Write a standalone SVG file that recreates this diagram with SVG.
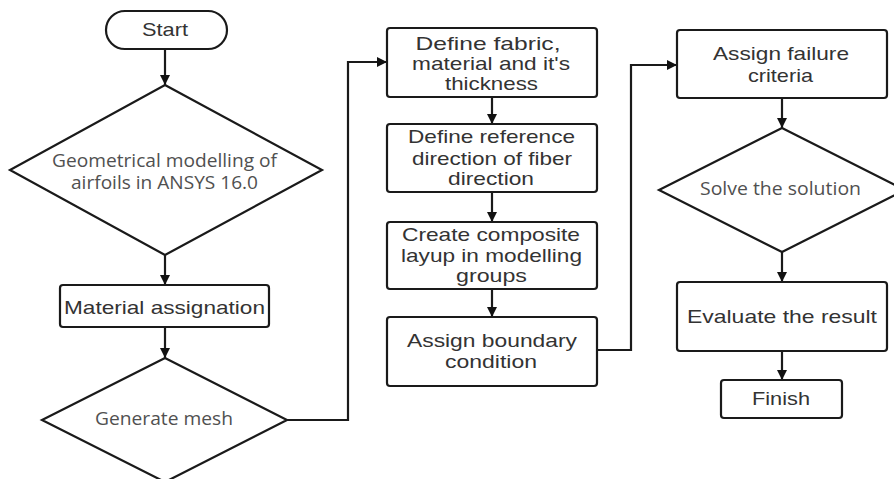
<svg xmlns="http://www.w3.org/2000/svg" width="894" height="479" viewBox="0 0 894 479">
<defs>
<marker id="ah" markerUnits="userSpaceOnUse" markerWidth="12" markerHeight="12" refX="10" refY="5" orient="auto">
<path d="M0,0 L10,5 L0,10 Z" fill="#111"/>
</marker>
<style>
.s{fill:#fff;stroke:#1a1a1a;stroke-width:2.2}
.c{fill:none;stroke:#1a1a1a;stroke-width:2.2;marker-end:url(#ah)}
.b{font-family:"Liberation Sans",Arial,sans-serif;font-size:19px;fill:#333;text-anchor:middle}
.d{font-family:"Open Sans","Noto Sans",sans-serif;font-size:17.5px;fill:#505050;text-anchor:middle}
</style>
</defs>
<rect width="894" height="479" fill="#fff"/>
<g id="connectors">
<path class="c" d="M165,49 V85"/>
<path class="c" d="M165,255 V285"/>
<path class="c" d="M165,327 V358"/>
<path class="c" d="M287,420 H348 V62 H387"/>
<path class="c" d="M492,97 V124"/>
<path class="c" d="M492,192 V222"/>
<path class="c" d="M492,289 V317"/>
<path class="c" d="M597,350 H631 V65 H677"/>
<path class="c" d="M782,98 V128"/>
<path class="c" d="M782,252 V282"/>
<path class="c" d="M782,351 V380"/>
</g>
<g id="start">
<rect class="s" x="106" y="11" width="121" height="38" rx="19"/>
<text class="b" x="165" y="36" textLength="46" lengthAdjust="spacingAndGlyphs">Start</text>
</g>
<g id="geom">
<polygon class="s" points="165,85 322,170 165,255 10,170"/>
<text class="d" x="164.5" y="167" textLength="225" lengthAdjust="spacingAndGlyphs">Geometrical modelling of</text>
<text class="d" x="164.5" y="189" textLength="187" lengthAdjust="spacingAndGlyphs">airfoils in ANSYS 16.0</text>
</g>
<g id="material">
<rect class="s" x="60" y="285" width="209" height="42" rx="3"/>
<text class="b" x="164.5" y="314" textLength="201" lengthAdjust="spacingAndGlyphs">Material assignation</text>
</g>
<g id="mesh">
<polygon class="s" points="165,358 287,420 165,482 42,420"/>
<text class="d" x="164" y="425" textLength="138" lengthAdjust="spacingAndGlyphs">Generate mesh</text>
</g>
<g id="fabric">
<rect class="s" x="387" y="28" width="210" height="69" rx="3"/>
<text class="b" x="488" y="50" textLength="145" lengthAdjust="spacingAndGlyphs">Define fabric,</text>
<text class="b" x="491" y="70" textLength="158" lengthAdjust="spacingAndGlyphs">material and it's</text>
<text class="b" x="491.5" y="90" textLength="93" lengthAdjust="spacingAndGlyphs">thickness</text>
</g>
<g id="reference">
<rect class="s" x="387" y="124" width="210" height="68" rx="3"/>
<text class="b" x="491.5" y="143" textLength="167" lengthAdjust="spacingAndGlyphs">Define reference</text>
<text class="b" x="492" y="165" textLength="160" lengthAdjust="spacingAndGlyphs">direction of fiber</text>
<text class="b" x="491" y="185" textLength="86" lengthAdjust="spacingAndGlyphs">direction</text>
</g>
<g id="layup">
<rect class="s" x="387" y="222" width="210" height="67" rx="3"/>
<text class="b" x="491" y="241" textLength="178" lengthAdjust="spacingAndGlyphs">Create composite</text>
<text class="b" x="491.5" y="262" textLength="181" lengthAdjust="spacingAndGlyphs">layup in modelling</text>
<text class="b" x="491.5" y="282" textLength="71" lengthAdjust="spacingAndGlyphs">groups</text>
</g>
<g id="boundary">
<rect class="s" x="387" y="317" width="210" height="69" rx="3"/>
<text class="b" x="492" y="347" textLength="170" lengthAdjust="spacingAndGlyphs">Assign boundary</text>
<text class="b" x="491" y="368" textLength="92" lengthAdjust="spacingAndGlyphs">condition</text>
</g>
<g id="failure">
<rect class="s" x="677" y="30" width="210" height="68" rx="3"/>
<text class="b" x="781" y="60" textLength="136" lengthAdjust="spacingAndGlyphs">Assign failure</text>
<text class="b" x="780.5" y="82" textLength="65" lengthAdjust="spacingAndGlyphs">criteria</text>
</g>
<g id="solve">
<polygon class="s" points="782,128 905,190 782,252 659,190"/>
<text class="d" x="780.5" y="195" textLength="161" lengthAdjust="spacingAndGlyphs">Solve the solution</text>
</g>
<g id="evaluate">
<rect class="s" x="677" y="282" width="210" height="69" rx="3"/>
<text class="b" x="782" y="323" textLength="190" lengthAdjust="spacingAndGlyphs">Evaluate the result</text>
</g>
<g id="finish">
<rect class="s" x="721" y="380" width="121" height="38" rx="3"/>
<text class="b" x="781" y="405" textLength="58" lengthAdjust="spacingAndGlyphs">Finish</text>
</g>
</svg>
